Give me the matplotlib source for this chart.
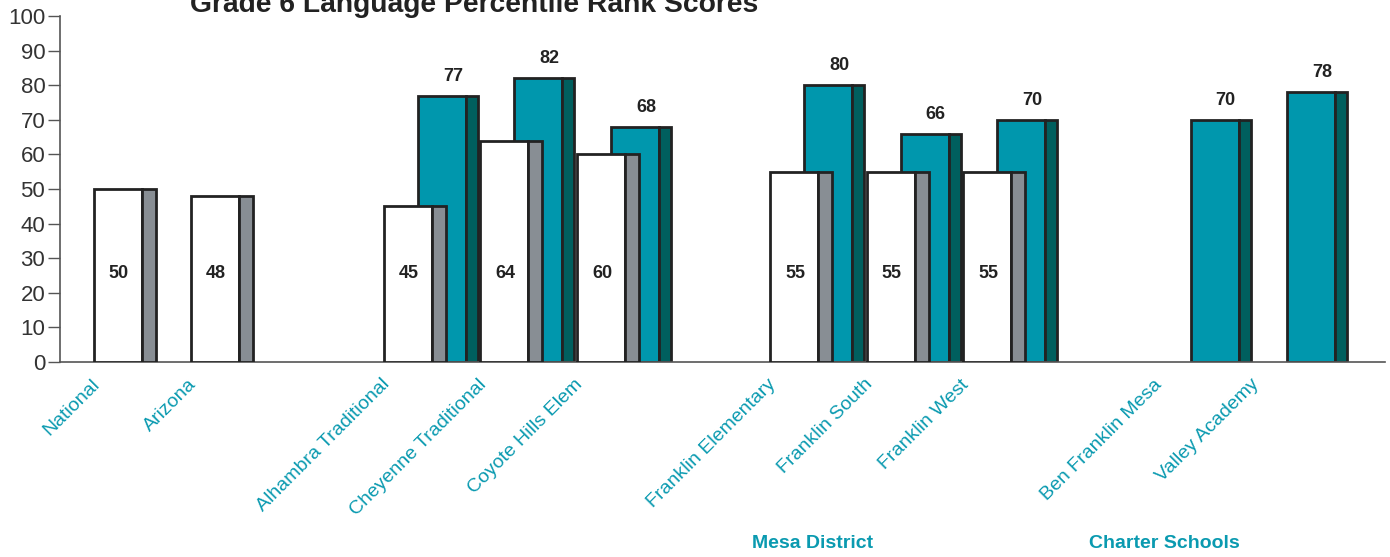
import numpy as np
import matplotlib
matplotlib.use("Agg")
import matplotlib.pyplot as plt
from matplotlib.transforms import ScaledTranslation

plt.rcParams["font.family"] = ["Liberation Sans", "DejaVu Sans"]

# Data (blank slots are the gaps between groups)
categories = ["National", "Arizona", "", "Alhambra Traditional", "Cheyenne Traditional",
              "Coyote Hills Elem", "", "Franklin Elementary", "Franklin South",
              "Franklin West", "", "Ben Franklin Mesa", "Valley Academy"]
white_vals = [50, 48, np.nan, 45, 64, 60, np.nan, 55, 55, 55, np.nan, np.nan, np.nan]
teal_vals = [np.nan, np.nan, np.nan, 77, 82, 68, np.nan, 80, 66, 70, np.nan, 70, 78]
group_names = ["Mesa District", "Charter Schools"]
title = "Grade 6 Language Percentile Rank Scores"

TEAL = "#0097ad"
TEAL_DARK = "#005f5e"
GRAY_SIDE = "#888e94"
EDGE = "#222222"
LABEL_TEAL = "#0a9ab0"

W, H = 1390, 557
fig = plt.figure(figsize=(W / 100, H / 100), dpi=100)
ax = fig.add_axes([60 / W, 195 / H, 1325 / W, 346 / H])

step = 96.6  # px per category
u = 1 / step
x = np.arange(len(categories))
white = np.array(white_vals, dtype=float)
teal = np.array(teal_vals, dtype=float)
wm = ~np.isnan(white)
tm = ~np.isnan(teal)

lw = 2.0
# teal bars (behind)
ax.bar(x[tm] - 13 * u, teal[tm], width=48 * u, align="edge", color=TEAL,
       edgecolor=EDGE, linewidth=lw, zorder=2)
ax.bar(x[tm] + 35 * u, teal[tm], width=12 * u, align="edge", color=TEAL_DARK,
       edgecolor=EDGE, linewidth=lw, zorder=2)
# white bars (front)
ax.bar(x[wm] - 47 * u, white[wm], width=48 * u, align="edge", color="white",
       edgecolor=EDGE, linewidth=lw, zorder=3)
ax.bar(x[wm] + 1 * u, white[wm], width=14 * u, align="edge", color=GRAY_SIDE,
       edgecolor=EDGE, linewidth=lw, zorder=3)

for xi, v in zip(x[wm], white[wm]):
    ax.text(xi - 22 * u, 25.5, f"{v:.0f}", ha="center", va="center",
            fontsize=13, fontweight="bold", color=EDGE, zorder=4)
for xi, v in zip(x[tm], teal[tm]):
    ax.annotate(f"{v:.0f}", (xi + 22 * u, v), xytext=(0, 14), textcoords="offset points",
                ha="center", va="center", fontsize=13, fontweight="bold", color=EDGE)

ax.set_xlim((60 - 141) / step, (1385 - 141) / step)
ax.set_ylim(0, 100)
ax.set_yticks(np.arange(0, 101, 10))
ax.tick_params(axis="y", length=8.6, width=1, color="#555555", pad=2,
               labelsize=16, labelcolor="#333333")

ax.set_xticks(x)
ax.set_xticklabels(categories, rotation=45, ha="right", va="top",
                   rotation_mode="anchor", fontsize=14, color=LABEL_TEAL)
ax.tick_params(axis="x", length=0, pad=0)
shift = ScaledTranslation(-0.50, -0.14, fig.dpi_scale_trans)
for lab in ax.get_xticklabels():
    lab.set_transform(lab.get_transform() + shift)

for s in ["top", "right"]:
    ax.spines[s].set_visible(False)
for s in ["left", "bottom"]:
    ax.spines[s].set_color("#555555")
    ax.spines[s].set_linewidth(1.2)

fig.text(813 / W, 1 - 544 / H, group_names[0], ha="center", va="center",
         fontsize=14, fontweight="bold", color=LABEL_TEAL)
fig.text(1164 / W, 1 - 544 / H, group_names[1], ha="center", va="center",
         fontsize=14, fontweight="bold", color=LABEL_TEAL)
fig.text(190 / W, 1 - 12 / H, title, ha="left", va="baseline",
         fontsize=20.3, fontweight="bold", color=EDGE)

fig.savefig("out.png", dpi=100)
